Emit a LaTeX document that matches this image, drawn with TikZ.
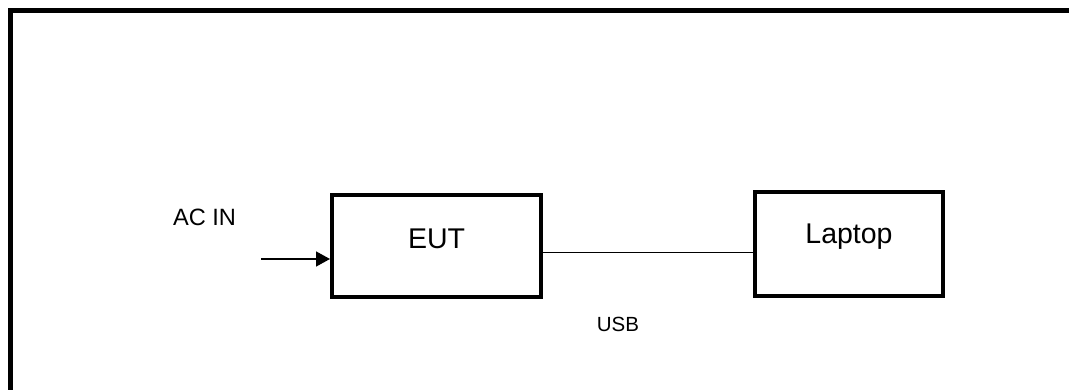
\documentclass[tikz,border=0pt]{standalone}
\usepackage{fontspec}
\setmainfont{Liberation Sans}
\usepackage{tikz}
\usetikzlibrary{arrows.meta}

\begin{document}
\begin{tikzpicture}[x=1pt, y=1pt,
    unit/.style={draw, rectangle, line width=4pt, minimum width=209pt, minimum height=102pt, inner sep=0pt},
    unit-text/.style={font=\fontsize{28.5}{34}\selectfont, anchor=base, yshift=7pt, inner sep=0pt},
    small-text/.style={anchor=base, inner sep=0pt}]
    \useasboundingbox (0,0) rectangle (1069,390);
    % Frame
    \draw[line width=5pt] (10.5,0) -- (10.5,379.5) -- (1069,379.5);

    % Units
    \node[unit, label={[unit-text]center:EUT}] (eut) at (436.5,144) {};
    \node[unit, minimum width=188pt, minimum height=104pt, label={[unit-text]center:Laptop}] (laptop) at (849,146) {};

    % Power input
    \node[small-text, font=\fontsize{23.6}{28}\selectfont] (ac-in) at (204.5,164) {AC IN};
    \coordinate (ac-start) at (261,131);
    \draw[-{Triangle[length=14pt, width=15pt]}, line width=1.5pt] (ac-start) -- (ac-start -| eut.west);

    % USB link
    \draw[line width=1pt] ([yshift=-7pt]eut.east) -- ([yshift=-9pt]laptop.west);
    \node[small-text, font=\fontsize{20.5}{24}\selectfont] (usb) at (618,58) {USB};
\end{tikzpicture}
\end{document}
